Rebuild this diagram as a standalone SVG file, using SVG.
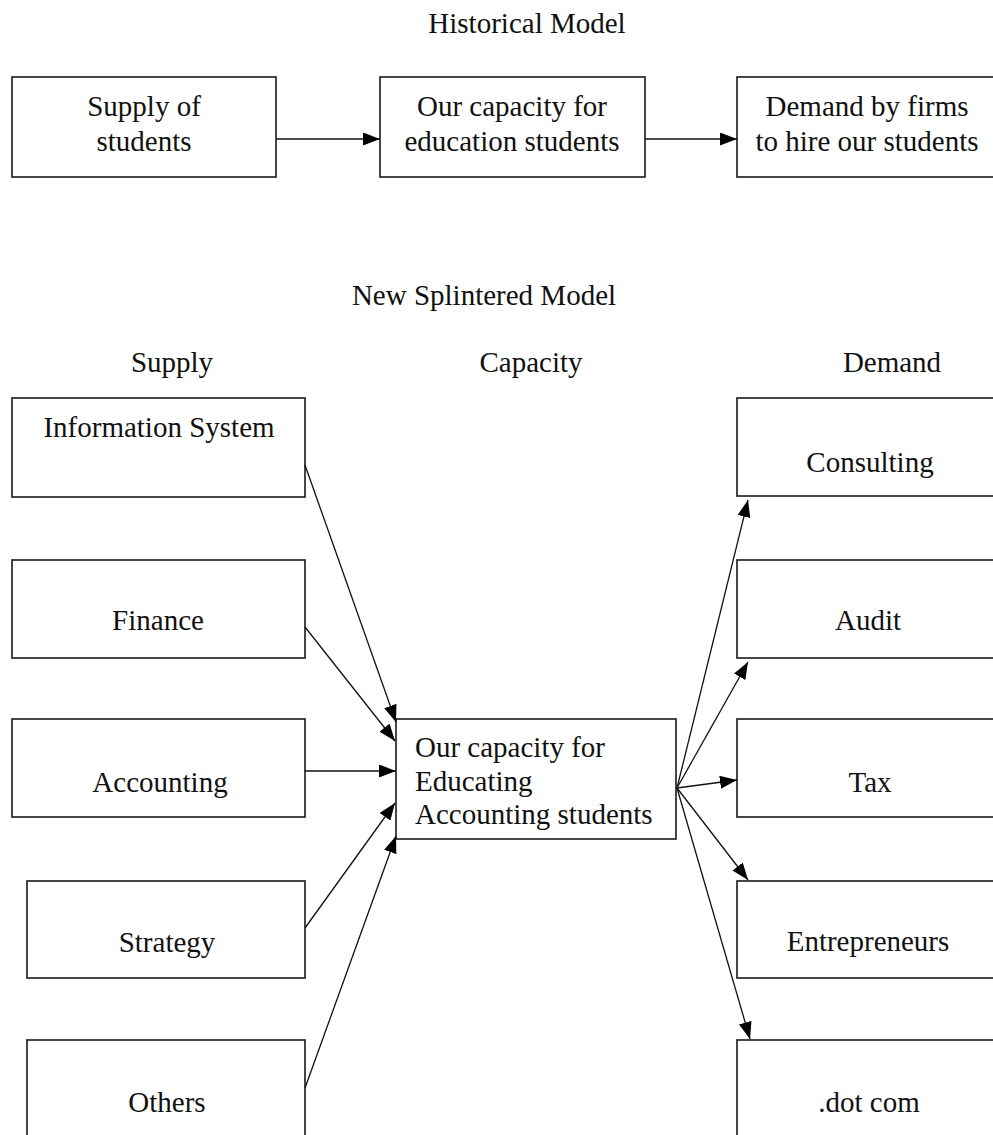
<svg xmlns="http://www.w3.org/2000/svg" width="993" height="1135" viewBox="0 0 993 1135">
<style>
.box{fill:#fff;stroke:#1a1a1a;stroke-width:1.6}
.t{font-family:"Liberation Serif","Times New Roman",serif;font-size:29px;fill:#111}
.c{text-anchor:middle}
.ln{stroke:#111;stroke-width:1.3;fill:none;marker-end:url(#ah)}
</style>
<defs>
<marker id="ah" markerUnits="userSpaceOnUse" markerWidth="17" markerHeight="13" refX="17" refY="6.5" orient="auto">
<path d="M0,0 L17,6.5 L0,13 z" fill="#000"/>
</marker>
</defs>
<rect width="993" height="1135" fill="#fff"/>
<text class="t c" x="527" y="33">Historical Model</text>
<text class="t c" x="484" y="305">New Splintered Model</text>
<text class="t c" x="172" y="372">Supply</text>
<text class="t c" x="531" y="372">Capacity</text>
<text class="t c" x="892" y="372">Demand</text>

<g id="supply-of-students"><rect class="box" x="12" y="77" width="264" height="100"/><text class="t c" x="144" y="116">Supply of</text><text class="t c" x="144" y="151">students</text></g>
<g id="capacity-top"><rect class="box" x="380" y="77" width="265" height="100"/><text class="t c" x="512" y="116">Our capacity for</text><text class="t c" x="512" y="151">education students</text></g>
<g id="demand-top"><rect class="box" x="737" y="77" width="266" height="100"/><text class="t c" x="867" y="116">Demand by firms</text><text class="t c" x="867" y="151">to hire our students</text></g>

<g id="info-system"><rect class="box" x="12" y="398" width="293" height="99"/><text class="t c" x="159" y="437">Information System</text></g>
<g id="finance"><rect class="box" x="12" y="560" width="293" height="98"/><text class="t c" x="158" y="630">Finance</text></g>
<g id="accounting"><rect class="box" x="12" y="719" width="293" height="98"/><text class="t c" x="160" y="792">Accounting</text></g>
<g id="strategy"><rect class="box" x="27" y="881" width="278" height="97"/><text class="t c" x="167" y="952">Strategy</text></g>
<g id="others"><rect class="box" x="27" y="1040" width="278" height="110"/><text class="t c" x="167" y="1112">Others</text></g>

<g id="capacity-center"><rect class="box" x="396" y="719" width="280" height="120"/><text class="t" x="415" y="757">Our capacity for</text><text class="t" x="415" y="791">Educating</text><text class="t" x="415" y="824">Accounting students</text></g>

<g id="consulting"><rect class="box" x="737" y="398" width="266" height="98"/><text class="t c" x="870" y="472">Consulting</text></g>
<g id="audit"><rect class="box" x="737" y="560" width="266" height="98"/><text class="t c" x="868" y="630">Audit</text></g>
<g id="tax"><rect class="box" x="737" y="719" width="266" height="98"/><text class="t c" x="870" y="792">Tax</text></g>
<g id="entrepreneurs"><rect class="box" x="737" y="881" width="266" height="97"/><text class="t c" x="868" y="951">Entrepreneurs</text></g>
<g id="dotcom"><rect class="box" x="737" y="1040" width="266" height="110"/><text class="t c" x="869" y="1112">.dot com</text></g>

<g id="connectors">
<line class="ln" x1="276" y1="139" x2="380" y2="139"/>
<line class="ln" x1="645" y1="139" x2="737" y2="139"/>
<line class="ln" x1="305" y1="465" x2="396" y2="722"/>
<line class="ln" x1="305" y1="627" x2="395" y2="741"/>
<line class="ln" x1="305" y1="771" x2="396" y2="771"/>
<line class="ln" x1="305" y1="928" x2="395" y2="803"/>
<line class="ln" x1="305" y1="1088" x2="396" y2="836"/>
<line class="ln" x1="677" y1="788" x2="748" y2="500"/>
<line class="ln" x1="677" y1="788" x2="748" y2="662"/>
<line class="ln" x1="677" y1="788" x2="737" y2="780"/>
<line class="ln" x1="677" y1="788" x2="748" y2="880"/>
<line class="ln" x1="677" y1="788" x2="750" y2="1039"/>
</g>
</svg>
